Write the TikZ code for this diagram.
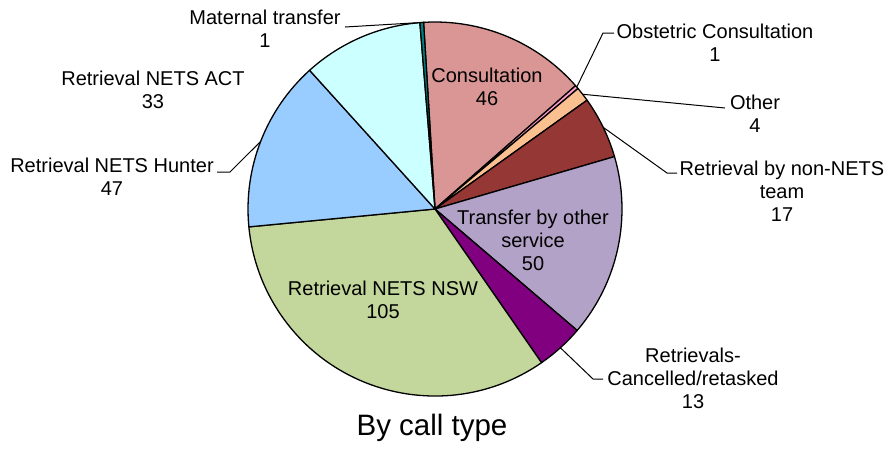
\documentclass[tikz,border=0pt]{standalone}
\usepackage{fontspec}
\setmainfont{Liberation Sans}
\definecolor{cConsult}{HTML}{D99694}
\definecolor{cObst}{HTML}{FF99CC}
\definecolor{cOther}{HTML}{FAC090}
\definecolor{cNonNets}{HTML}{953735}
\definecolor{cTransfer}{HTML}{B3A2C7}
\definecolor{cCancel}{HTML}{800080}
\definecolor{cNSW}{HTML}{C3D69B}
\definecolor{cHunter}{HTML}{99CCFF}
\definecolor{cACT}{HTML}{CCFFFF}
\definecolor{cMaternal}{HTML}{008080}
\tikzset{
  lbl/.style={inner sep=0pt, align=center, font=\fontsize{20}{23}\selectfont},
  ttl/.style={inner sep=0pt, font=\fontsize{29.5}{34}\selectfont},
  leader/.style={draw=black, line width=1pt},
  sliceedge/.style={draw=black, line width=1.3pt, line join=round}
}
\newcommand{\pieslice}[3]{%
  \filldraw[sliceedge, fill=#3] (C) -- ($(C)+(#1:187)$) arc[start angle=#1, end angle=#2, radius=187] -- cycle;%
}
\usetikzlibrary{calc}
\begin{document}
\begin{tikzpicture}[x=1pt,y=1pt]
\useasboundingbox (0,0) rectangle (888,-448);
\coordinate (C) at (435,-209);
\pieslice{93.5}{41.260}{cConsult}
\pieslice{41.260}{40.124}{cObst}
\pieslice{40.124}{35.582}{cOther}
\pieslice{35.582}{16.276}{cNonNets}
\pieslice{16.276}{-40.506}{cTransfer}
\pieslice{-40.506}{-55.269}{cCancel}
\pieslice{-55.269}{-174.512}{cNSW}
\pieslice{-174.512}{-227.887}{cHunter}
\pieslice{-227.887}{-265.363}{cACT}
\pieslice{-265.363}{-266.5}{cMaternal}

% anchor points on the rim
\coordinate (pMat) at ($(C)+(92.9:187)$);
\coordinate (pObs) at ($(C)+(40.7:187)$);
\coordinate (pOth) at ($(C)+(37.85:187)$);
\coordinate (pNon) at ($(C)+(25.9:187)$);
\coordinate (pCan) at ($(C)+(-47.9:187)$);
\coordinate (pHun) at ($(C)+(158.8:187)$);

% labels
\node[lbl] (lMat) at (265,-28.5) {Maternal transfer\\1};
\node[lbl] (lCon) at (487,-86.5) {Consultation\\46};
\node[lbl] (lObs) at (715,-42.5) {Obstetric Consultation\\1};
\node[lbl] (lOth) at (755,-113.5) {Other\\4};
\node[lbl] (lNon) at (782,-191) {Retrieval by non-NETS\\team\\17};
\node[lbl] (lTra) at (533,-240) {Transfer by other\\service\\50};
\node[lbl] (lNSW) at (383,-299.5) {Retrieval NETS NSW\\105};
\node[lbl] (lCan) at (693,-378) {Retrievals-\\Cancelled/retasked\\13};
\node[lbl] (lHun) at (112,-177) {Retrieval NETS Hunter\\47};
\node[lbl] (lACT) at (153,-90) {Retrieval NETS ACT\\33};
\node[ttl] (title) at (432,-428) {By call type};

% leader lines
\coordinate (kMat) at (345,-27);
\coordinate (kObs1) at (603,-33);
\coordinate (kObs2) at (614,-33);
\coordinate (kOth) at (725,-108);
\coordinate (kNon1) at (667,-173);
\coordinate (kNon2) at (677,-173);
\coordinate (kCan1) at (593,-379);
\coordinate (kCan2) at (603,-379);
\coordinate (kHun1) at (230,-172);
\coordinate (kHun2) at (217,-172);
\draw[leader] (pMat) -- (kMat);
\draw[leader] (pObs) -- (kObs1) -- (kObs2);
\draw[leader] (pOth) -- (kOth);
\draw[leader] (pNon) -- (kNon1) -- (kNon2);
\draw[leader] (pCan) -- (kCan1) -- (kCan2);
\draw[leader] (pHun) -- (kHun1) -- (kHun2);
\end{tikzpicture}
\end{document}
